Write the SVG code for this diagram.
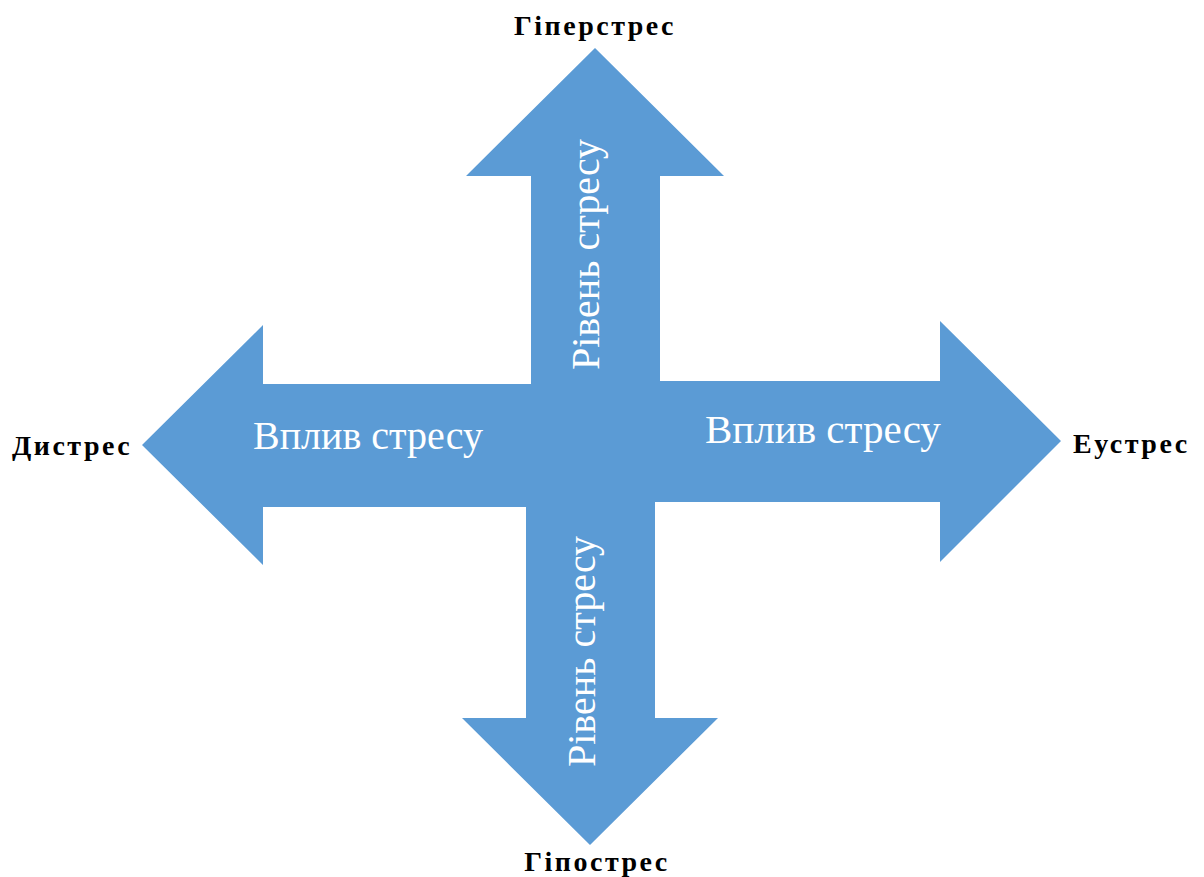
<svg xmlns="http://www.w3.org/2000/svg" width="1204" height="877" viewBox="0 0 1204 877">
<style>
.arrow{fill:#5B9BD5;stroke:none}
.in{font-family:"Liberation Serif","Times New Roman",serif;font-size:40px;fill:#ffffff}
.lbl{font-family:"Liberation Serif","Times New Roman",serif;font-size:28px;font-weight:bold;fill:#000000;letter-spacing:2.5px}
</style>
<rect width="1204" height="877" fill="#ffffff"/>
<g id="arrow-up">
<polygon class="arrow" points="595,48 724,176 660,176 660,445 531,445 531,176 466,176"/>
</g>
<g id="arrow-down">
<polygon class="arrow" points="526,445 655,445 655,718 718,718 590,845 462,718 526,718"/>
</g>
<g id="arrow-left">
<polygon class="arrow" points="142,445 263,325 263,384 595,384 595,507 263,507 263,565"/>
</g>
<g id="arrow-right">
<polygon class="arrow" points="595,381 940,381 940,321 1061,441 940,562 940,502 595,502"/>
</g>
<g id="texts-inner">
<text class="in" x="253" y="449">Вплив стресу</text>
<text class="in" x="705" y="443" style="font-size:41px">Вплив стресу</text>
<text class="in" transform="translate(599,370) rotate(-90)">Рівень стресу</text>
<text class="in" transform="translate(595,767) rotate(-90)">Рівень стресу</text>
</g>
<g id="label-hyper"><text class="lbl" x="595" y="35" text-anchor="middle">Гіперстрес</text></g>
<g id="label-distress"><text class="lbl" x="12" y="455">Дистрес</text></g>
<g id="label-eustress"><text class="lbl" x="1073" y="453">Еустрес</text></g>
<g id="label-hypo"><text class="lbl" x="597" y="871" text-anchor="middle">Гіпострес</text></g>
</svg>
